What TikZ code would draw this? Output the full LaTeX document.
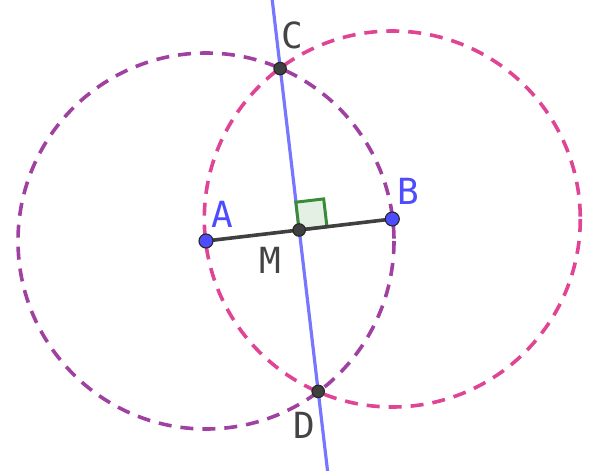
\documentclass[tikz,border=0pt]{standalone}
\usepackage{fontspec}
\newfontfamily\labfont{DejaVu Sans Mono}
\usetikzlibrary{calc}
\definecolor{circA}{RGB}{160,64,160}
\definecolor{circB}{RGB}{224,68,148}
\definecolor{linecol}{RGB}{118,118,255}
\definecolor{ptblue}{RGB}{77,77,255}
\definecolor{ptgray}{RGB}{64,64,64}
\definecolor{labgray}{RGB}{68,68,68}
\definecolor{rgreen}{RGB}{56,140,56}
\definecolor{rfill}{RGB}{228,240,228}
\tikzset{
  circstyle/.style={line width=3.6pt, dash pattern=on 13pt off 9pt},
  ptstyle/.style={circle, draw=black!85, line width=1.1pt, inner sep=0pt, minimum size=14pt},
  labstyle/.style={font=\labfont\fontsize{36}{36}\selectfont, inner sep=0pt}
}
\begin{document}
\begin{tikzpicture}[x=1pt,y=-1pt]
\useasboundingbox (0,0) rectangle (600,471);
\coordinate (A) at (206,241);
\coordinate (B) at (392.3,219);
\coordinate (M) at ($(A)!0.5!(B)$);
\coordinate (C) at (280.1,68.6);
\coordinate (D) at (318.2,391.4);
\coordinate (Ltop) at (272,-2);
\coordinate (Lbot) at (327.8,473);
% circles
\draw[circstyle, circA] (A) circle [radius=188];
\draw[circstyle, circB] (B) circle [radius=188];
% perpendicular bisector
\draw[linecol, line width=3.2pt] (Ltop) -- (Lbot);
% right-angle mark
\coordinate (R1) at ($(M)!28pt!(B)$);
\coordinate (R2) at ($(M)!28pt!(C)$);
\draw[rgreen, fill=rfill, line width=3pt, line join=miter] (M) -- (R1) -- ($(R1)+(R2)-(M)$) -- (R2) -- cycle;
% segment
\draw[ptgray, line width=3.6pt] (A) -- (B);
% points
\node[ptstyle, fill=ptblue] (pA) at (A) {};
\node[ptstyle, fill=ptblue] (pB) at (B) {};
\node[ptstyle, fill=ptgray, minimum size=12.5pt] (pM) at (M) {};
\node[ptstyle, fill=ptgray, minimum size=12.5pt] (pC) at (C) {};
\node[ptstyle, fill=ptgray, minimum size=12.5pt] (pD) at (D) {};
% labels
\node[labstyle, text=ptblue] (lA) at (222,214) {A};
\node[labstyle, text=ptblue] (lB) at (408.5,191) {B};
\node[labstyle, text=labgray] (lM) at (270.5,260) {M};
\node[labstyle, text=labgray] (lC) at (292.5,35) {C};
\node[labstyle, text=labgray] (lD) at (304.5,425) {D};
\end{tikzpicture}
\end{document}
